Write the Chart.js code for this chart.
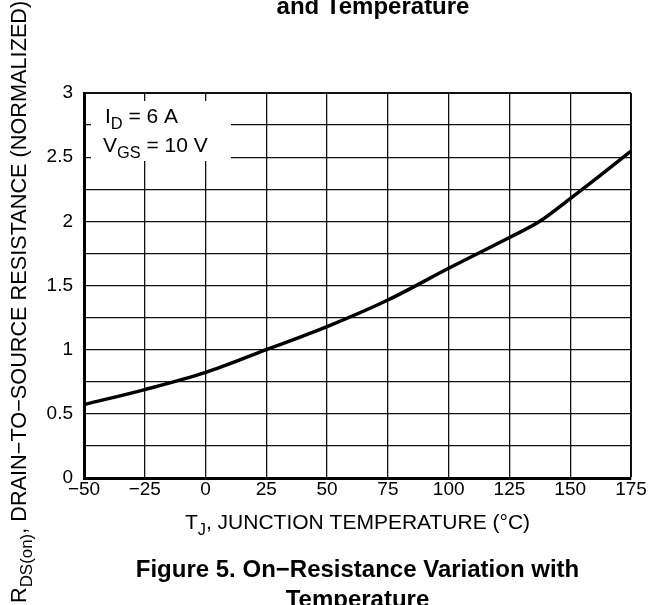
<!DOCTYPE html>
<html>
<head>
<meta charset="utf-8">
<script src="https://cdn.jsdelivr.net/npm/chart.js@4.4.1/dist/chart.umd.min.js"></script>
<style>
  html, body { margin: 0; padding: 0; background: #fff; }
  #wrap { width: 652px; height: 605px; }
</style>
</head>
<body>
<div id="wrap"><canvas id="chart" width="652" height="605"></canvas></div>
<script>
/* ================= DATA ================= */
const junctionTemp = [-50, -25, 0, 25, 50, 75, 100, 125, 137.5, 150, 162.5, 175];
const rdsNormalized = [0.572, 0.689, 0.823, 1.0, 1.18, 1.387, 1.634, 1.874, 2.0, 2.177, 2.36, 2.547];
const xTicks = [-50, -25, 0, 25, 50, 75, 100, 125, 150, 175];
const yTicks = [0, 0.5, 1, 1.5, 2, 2.5, 3];

const FONT = "'Liberation Sans', Arial, Helvetica, sans-serif";

/* ================= TEXT WITH SUBSCRIPTS ================= */
// parts: [text, isSub]
function richWidth(ctx, parts, size) {
  let w = 0;
  parts.forEach(([t, sub]) => {
    ctx.font = (sub ? size * 0.78 : size) + "px " + FONT;
    w += ctx.measureText(t).width;
  });
  return w;
}

function drawRich(ctx, parts, x, y, size, align) {
  let cx = x;
  if (align === "center") cx = x - richWidth(ctx, parts, size) / 2;
  ctx.textAlign = "left";
  ctx.textBaseline = "alphabetic";
  parts.forEach(([t, sub]) => {
    ctx.font = (sub ? size * 0.78 : size) + "px " + FONT;
    ctx.fillText(t, cx, sub ? y + size * 0.28 : y);
    cx += ctx.measureText(t).width;
  });
}

/* ================= DECORATION PLUGIN ================= */
const decor = {
  id: "decor",
  beforeDatasetsDraw(chart) {
    const ctx = chart.ctx;
    // white box behind the test conditions
    ctx.save();
    ctx.fillStyle = "#fff";
    ctx.fillRect(91, 101, 140, 60);
    ctx.fillStyle = "#000";
    drawRich(ctx, [["I", false], ["D", true], [" = 6 A", false]], 105, 123, 21);
    drawRich(ctx, [["V", false], ["GS", true], [" = 10 V", false]], 103, 152, 21);
    ctx.restore();
  },
  afterDraw(chart) {
    const ctx = chart.ctx;
    const area = chart.chartArea;
    const cx = (area.left + area.right) / 2;
    ctx.save();
    ctx.fillStyle = "#000";

    // x axis title
    drawRich(ctx, [["T", false], ["J", true], [", JUNCTION TEMPERATURE (\u00B0C)", false]], cx, 529, 21, "center");

    // y axis title, rotated
    ctx.save();
    ctx.translate(26, 603);
    ctx.rotate(-Math.PI / 2);
    drawRich(ctx, [["R", false], ["DS(on)", true], [", DRAIN\u2212TO\u2212SOURCE RESISTANCE (NORMALIZED)", false]], 0, 0, 21.7);
    ctx.restore();

    // titles
    ctx.textAlign = "center";
    ctx.textBaseline = "alphabetic";
    ctx.font = "bold 24px " + FONT;
    ctx.fillText("and Temperature", 373, 14);
    ctx.fillText("Figure 5. On\u2212Resistance Variation with", cx, 577);
    ctx.fillText("Temperature", cx, 607);
    ctx.restore();
  }
};

/* ================= CHART ================= */
new Chart(document.getElementById("chart"), {
  type: "line",
  data: {
    labels: junctionTemp,
    datasets: [{
      data: junctionTemp.map((t, i) => ({ x: t, y: rdsNormalized[i] })),
      borderColor: "#000",
      borderWidth: 3.5,
      pointRadius: 0,
      cubicInterpolationMode: "monotone",
      fill: false
    }]
  },
  options: {
    responsive: false,
    animation: false,
    layout: { padding: { left: 0, top: 93, right: 21, bottom: 0 } },
    plugins: { legend: { display: false }, tooltip: { enabled: false } },
    scales: {
      x: {
        type: "linear",
        min: xTicks[0],
        max: xTicks[xTicks.length - 1],
        afterFit: s => { s.height = 127; },
        afterBuildTicks: s => { s.ticks = xTicks.map(v => ({ value: v })); },
        ticks: {
          color: "#000",
          font: { family: FONT, size: 19 },
          padding: 0,
          maxRotation: 0,
          autoSkip: false,
          callback: v => (v < 0 ? "\u2212" + Math.abs(v) : String(v))
        },
        grid: {
          color: "#111",
          lineWidth: c => (c.tick && c.tick.value === 175 ? 2 : 1.3),
          drawTicks: false,
          tickLength: 0
        },
        border: { display: true, color: "#000", width: 3 }
      },
      y: {
        type: "linear",
        min: yTicks[0],
        max: yTicks[yTicks.length - 1],
        afterFit: s => { s.width = 84; },
        ticks: {
          stepSize: 0.25,
          color: "#000",
          font: { family: FONT, size: 19 },
          padding: 11,
          autoSkip: false,
          callback: v => (yTicks.includes(v) ? String(v) : "")
        },
        grid: {
          color: "#111",
          lineWidth: c => (c.tick && c.tick.value === 3 ? 2 : 1.3),
          drawTicks: false,
          tickLength: 0
        },
        border: { display: true, color: "#000", width: 3 }
      }
    }
  },
  plugins: [decor]
});
</script>
</body>
</html>
